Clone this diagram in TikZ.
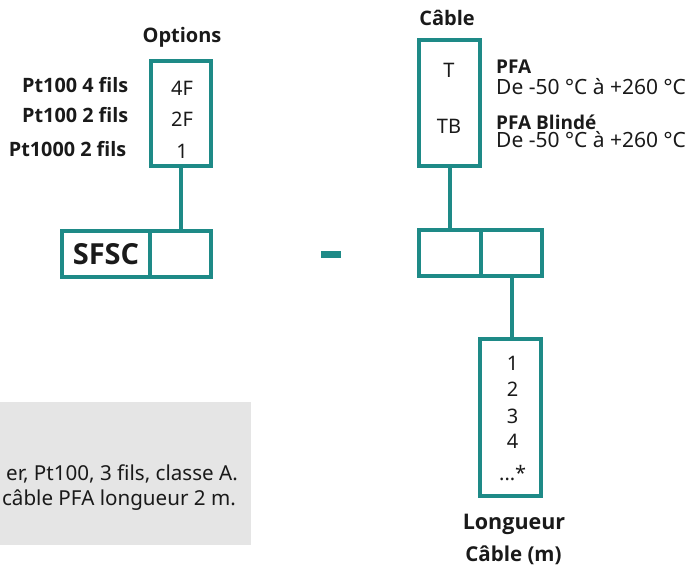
\documentclass[tikz,border=0pt]{standalone}
\usepackage{fontspec}
\setmainfont{Noto Sans}
\newfontfamily\labfont{Open Sans}
\usetikzlibrary{positioning}
\definecolor{boxcolor}{RGB}{30,138,135}
\definecolor{notecolor}{RGB}{229,229,229}
\definecolor{txtcolor}{RGB}{26,26,26}

\begin{document}
\begin{tikzpicture}[%
    x=1pt, y=-1pt,              % Units follow the sheet, top-down
    every node/.style={text=txtcolor, inner sep=0pt},
    ]
\tikzset{
  cell/.style={draw=boxcolor, line width=4pt, rectangle, minimum height=46pt},
  col/.style={draw=boxcolor, line width=4pt, rectangle, minimum width=61pt},
  reg/.style={font=\fontsize{20}{24}\selectfont},
  lab/.style={font=\labfont\bfseries\fontsize{19.8}{23}\selectfont},
  head/.style={font=\labfont\bfseries\fontsize{20}{24}\selectfont},
  note/.style={font=\fontsize{20.6}{24}\selectfont, anchor=base east},
}
\useasboundingbox (0,0) rectangle (688,568);

% Note box, cut by the sheet edge
\fill [notecolor] (0,402) rectangle (251,545);
\node [note] (n1) at (238,480) {er, Pt100, 3 fils, classe A.};
\node [note] (n2) at (236,505) {câble PFA longueur 2 m.};

% Options
\node [col, minimum width=60pt, minimum height=105pt] (opt) at (181.3,113.8) {};
\node [head] (optt) at (182,37) {Options};
\node [reg] (o1) at (182,88) {4F};
\node [reg] (o2) at (182,119.7) {2F};
\node [reg] (o3) at (182,151) {1};
\node [lab, anchor=east] (l1) at (128.5,85) {Pt100 4 fils};
\node [lab, anchor=east] (l2) at (128.5,115) {Pt100 2 fils};
\node [lab, anchor=east] (l3) at (126.5,149) {Pt1000 2 fils};

% Code
\node [cell, minimum width=88pt, font=\labfont\bfseries\fontsize{29}{32}\selectfont] (sfsc) at (106,254.3) {SFSC};
\node [cell, minimum width=61.3pt] (s1) at (180.65,254.3) {};
\node [fill=boxcolor, minimum width=20pt, minimum height=7pt] (dash) at (331,254.5) {};
\node [cell, minimum width=61.7pt] (c1) at (450.15,253.3) {};
\node [cell, minimum width=61.3pt] (c2) at (511.65,253.3) {};

% Cable
\node [col, minimum height=126pt] (cab) at (449.8,103.3) {};
\node [head] (cabt) at (447,18) {Câble};
\node [reg] (t1) at (449,70.5) {T};
\node [reg] (t2) at (449,126) {TB};
\node [lab, anchor=west, font=\labfont\bfseries\fontsize{19}{23}\selectfont] (p1) at (496,67) {PFA};
\node [reg, anchor=west, font=\fontsize{21}{24}\selectfont] (p2) at (496,86.3) {De -50 °C à +260 °C};
\node [lab, anchor=west, font=\labfont\bfseries\fontsize{19}{23}\selectfont] (p3) at (496,122) {PFA Blindé};
\node [reg, anchor=west, font=\fontsize{21}{24}\selectfont] (p4) at (496,139.6) {De -50 °C à +260 °C};

% Length
\node [col, minimum height=156.4pt] (len) at (510.8,417.5) {};
\node [reg] (m1) at (512.7,363.5) {1};
\node [reg] (m2) at (512.7,389) {2};
\node [reg] (m3) at (512.7,416) {3};
\node [reg] (m4) at (512.7,441.5) {4};
\node [reg] (m5) at (512.7,473) {...*};
\node [head, font=\labfont\bfseries\fontsize{21.5}{24}\selectfont] (lent) at (514,524) {Longueur};
\node [head, font=\labfont\bfseries\fontsize{20.5}{24}\selectfont] (lenu) at (513.5,555) {Câble (m)};

\draw [boxcolor, line width=4pt] (opt.south) -- (opt.south |- s1.north);
\draw [boxcolor, line width=4pt] (cab.south) -- (cab.south |- c1.north);
\draw [boxcolor, line width=4pt] (c2.south) -- (c2.south |- len.north);

\end{tikzpicture}
\end{document}
